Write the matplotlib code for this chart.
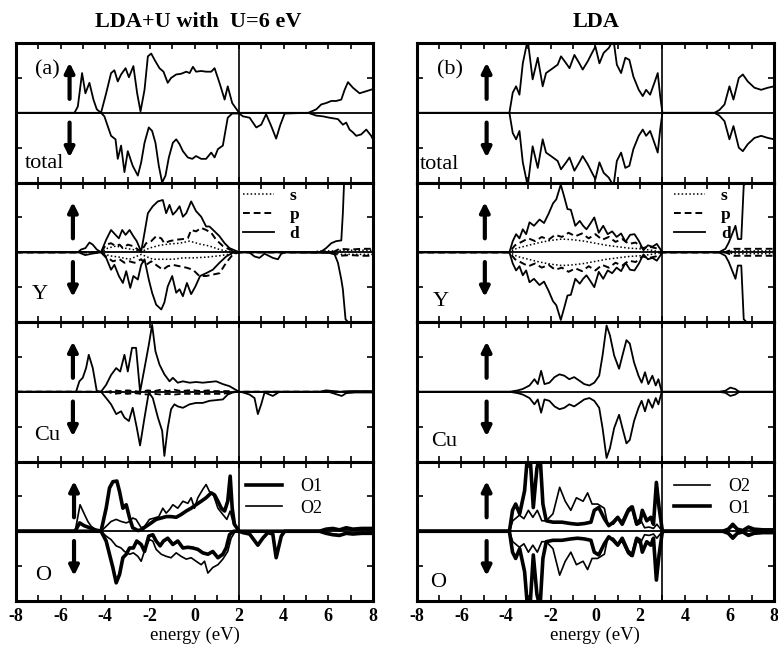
#!/usr/bin/env python3
# Spin-resolved DOS: LDA+U (U=6 eV) vs LDA, total / Y / Cu / O panels

import numpy as np
import matplotlib
matplotlib.use("Agg")
import matplotlib.pyplot as plt
from matplotlib.ticker import MultipleLocator

plt.rcParams['font.family'] = ['Liberation Serif', 'DejaVu Serif']
plt.rcParams['mathtext.fontset'] = 'stix'

# %% Data, LDA+U (a): energy (eV) and DOS (arb. units), up >0, down <0

u_tot_up_E = [-8, -5.38, -5.23, -5.04, -4.89, -4.71, -4.53, -4.38, -4.19, -3.96, -3.74, -3.59, -3.44, -3.29,
              -3.09, -2.94, -2.74, -2.57, -2.42, -2.24, -2.09, -1.94, -1.79, -1.57, -1.39, -1.20, -1.05, -0.82,
              -0.60, -0.37, -0.22, -0.07, 0.07, 0.30, 0.52, 0.75, 0.90, 1.12, 1.35, 1.49, 1.69, 2.0,
              5.1, 5.46, 5.68, 5.9, 6.13, 6.35, 6.58, 6.73, 6.88, 7.1, 7.4, 7.7, 8.0]
u_tot_up = [0, 0, 0.9, 5.7, 2.8, 4.3, 1.9, 0.5, 0, 2.8, 5.7, 6.1, 4.5, 5.5,
            6.4, 5.1, 6.7, 2.8, 0.2, 3.3, 8.1, 8.5, 7.6, 6.4, 5.9, 4.3, 5.0, 5.5,
            5.6, 5.9, 5.7, 6.6, 5.9, 6.0, 5.9, 5.9, 6.4, 4.3, 1.9, 3.8, 1.4, 0,
            0, 0.5, 1.2, 1.4, 1.7, 1.7, 1.9, 3.3, 4.4, 3.6, 2.8, 3.1, 3.4]
u_tot_dn_E = [-8, -4.19, -4.04, -3.89, -3.74, -3.54, -3.44, -3.29, -3.14, -2.99, -2.77, -2.54, -2.39, -2.24,
              -2.05, -1.90, -1.75, -1.60, -1.45, -1.30, -1.15, -0.97, -0.82, -0.67, -0.52, -0.30, -0.10, 0.07,
              0.30, 0.52, 0.75, 0.90, 1.05, 1.27, 1.49, 1.69, 2.0, 2.17, 2.47, 2.77, 2.99, 3.21, 3.44, 3.66,
              3.84, 4.04, 5.1, 5.46, 5.75, 6.05, 6.43, 6.65, 6.8, 6.95, 7.1, 7.25, 7.47, 7.7, 7.92, 8.0]
u_tot_dn = [0, 0, -0.5, -1.9, -3.3, -3.8, -6.6, -4.7, -8.5, -5.5, -7.6, -9.0, -7.1, -4.3,
            -2.1, -2.6, -4.3, -7.6, -10, -9.0, -6.4, -4.3, -3.8, -4.5, -5.5, -6.4, -6.6, -6.2,
            -6.6, -6.6, -5.7, -6.4, -5.2, -4.7, -0.7, -0.1, -0.1, -0.5, -0.7, -2.1, -1.7, -0.2, -1.9, -3.7,
            -1.8, -0.1, 0, -0.4, -0.5, -0.7, -0.9, -1.7, -1.4, -2.4, -2.8, -3.3, -3.1, -2.4, -3.3, -3.8]

u_Yd_up_E = [-8, -5.23, -5.08, -4.89, -4.71, -4.56, -4.38, -4.19, -3.96, -3.74, -3.54, -3.39, -3.24, -3.09,
             -2.91, -2.74, -2.59, -2.39, -2.24, -2.09, -1.87, -1.64, -1.42, -1.27, -1.12, -0.97, -0.82, -0.67,
             -0.52, -0.37, -0.15, 0.07, 0.30, 0.52, 0.67, 0.90, 1.12, 1.35, 1.57, 2.0,
             5.5, 5.68, 5.9, 6.13, 6.35, 6.58, 6.65, 6.71, 8.0]
u_Yd_up = [0, 0, 0.4, 0.6, 1.4, 1.1, 0.4, 0, 1.8, 3.2, 2.5, 2.0, 3.2, 2.5,
           3.2, 2.3, 1.6, 0.1, 2.8, 5.6, 6.6, 7.3, 7.5, 5.6, 6.8, 5.4, 5.9, 6.6,
           5.1, 5.6, 7.3, 5.9, 5.1, 3.7, 3.7, 3.0, 2.3, 1.3, 0.6, 0,
           0, 0.1, 0.6, 1.3, 1.6, 1.7, 5.6, 10.4, 14]
u_Yd_dn_E = [-8, -5.2, -4.9, -4.6, -4.19, -3.96, -3.74, -3.59, -3.39, -3.21, -3.06, -2.88, -2.74, -2.54,
             -2.39, -2.24, -2.05, -1.90, -1.72, -1.49, -1.35, -1.20, -1.00, -0.82, -0.67, -0.52, -0.34, -0.15,
             0.04, 0.25, 0.52, 0.82, 1.12, 1.42, 1.69, 2.0, 2.45, 2.69, 2.91, 3.14, 3.51, 3.74, 3.89, 4.1,
             6.05, 6.28, 6.43, 6.58, 6.65, 6.77, 8.0]
u_Yd_dn = [0, 0, -0.4, -0.2, 0, -0.8, -2.5, -1.8, -3.4, -4.4, -2.7, -5.1, -3.4, -3.9,
           -1.8, -1.0, -3.9, -5.8, -7.5, -8.2, -7.2, -4.9, -3.4, -5.8, -5.3, -6.3, -4.4, -6.0,
           -4.9, -3.4, -3.0, -2.5, -1.5, -0.6, -0.1, 0, 0, -0.6, -0.8, -0.2, -0.8, -1.0, -0.2, 0,
           -0.1, -0.3, -1.5, -3.9, -5.3, -9.6, -14]
u_Yp_up_E = [-8, -4.19, -3.96, -3.74, -3.54, -3.36, -3.21, -2.99, -2.77, -2.39, -2.17, -1.94, -1.72, -1.49,
             -1.35, -1.12, -0.82, -0.52, -0.30, -0.15, 0.07, 0.30, 0.52, 0.75, 0.97, 1.27, 1.57, 2.0,
             6.2, 6.5, 7.0, 7.5, 8.0]
u_Yp_up = [0, 0, 1.1, 1.3, 0.9, 1.1, 0.6, 1.1, 0.9, 0.1, 1.3, 1.6, 2.3, 2.0,
           1.3, 1.6, 1.8, 1.9, 2.0, 3.2, 3.0, 3.5, 3.2, 2.8, 1.8, 0.9, 0.4, 0,
           0, 0.5, 0.4, 0.5, 0.5]
u_Yp_dn_E = [-8, -4.19, -3.96, -3.66, -3.36, -3.14, -2.91, -2.69, -2.39, -2.17, -1.94, -1.64, -1.42, -1.20,
             -0.97, -0.67, -0.37, -0.07, 0.22, 0.52, 0.82, 1.12, 1.42, 1.72, 2.0, 6.2, 6.5, 7.0, 7.5, 8.0]
u_Yp_dn = [0, 0, -0.6, -1.3, -1.0, -1.5, -1.3, -1.5, -1.0, -1.8, -1.3, -2.0, -2.5, -2.0,
           -1.8, -2.0, -2.2, -2.5, -3.4, -3.4, -3.2, -3.0, -1.5, -0.3, 0, 0, -0.5, -0.4, -0.5, -0.5]
u_Ys_up_E = [-8, -4.19, -3.89, -3.51, -3.14, -2.77, -2.39, -2.02, -1.57, -1.12, -0.67, -0.22, 0.22, 0.67,
             1.12, 1.57, 2.0, 5.3, 5.6, 6.3, 6.6, 8.0]
u_Ys_up = [0, 0, 0.6, 0.9, 0.6, 0.4, 0.1, 0.6, 1.0, 1.2, 1.3, 1.6, 1.2, 0.9,
           0.4, 0.1, 0, 0, 0.2, 0.2, 0.3, 0.3]
u_Ys_dn_E = [-8, -4.19, -3.81, -3.36, -2.91, -2.39, -1.87, -1.42, -0.97, -0.52, -0.07, 0.52, 1.12, 1.72,
             2.0, 6.3, 6.6, 8.0]
u_Ys_dn = [0, 0, -0.5, -0.7, -1.0, -0.3, -1.0, -1.0, -1.0, -0.8, -0.8, -0.7, -0.5, -0.2,
           0, 0, -0.3, -0.3]

u_Cud_up_E = [-8, -5.31, -5.16, -5.01, -4.86, -4.74, -4.56, -4.38, -4.19, -3.96, -3.74, -3.51, -3.33, -3.14,
              -2.99, -2.80, -2.62, -2.44, -2.24, -2.05, -1.90, -1.75, -1.57, -1.35, -1.12, -0.97, -0.75, -0.52,
              -0.22, 0.07, 0.37, 0.67, 0.97, 1.27, 1.57, 2.0, 5.6, 5.9, 6.2, 6.5, 7.0, 8.0]
u_Cud_up = [0, 0, 1.5, 2.0, 3.4, 5.3, 3.4, 0.1, 0, 1.0, 2.4, 3.4, 2.9, 5.3,
            2.9, 6.3, 6.3, 0, 3.4, 6.7, 9.6, 5.8, 3.9, 2.5, 1.5, 2.0, 1.3, 1.5,
            1.3, 1.4, 1.3, 1.4, 1.5, 1.1, 0.8, 0, 0, 0.2, 0.1, 0, 0.1, 0.1]
u_Cud_dn_E = [-8, -4.19, -3.96, -3.74, -3.51, -3.29, -3.14, -2.94, -2.77, -2.59, -2.44, -2.24, -2.05, -1.87,
              -1.64, -1.45, -1.35, -1.20, -1.05, -0.90, -0.75, -0.52, -0.22, 0.07, 0.37, 0.67, 0.97, 1.27,
              1.49, 1.72, 2.0, 2.17, 2.47, 2.69, 2.84, 2.99, 3.14, 3.51, 3.66, 3.81,
              6.0, 6.3, 6.6, 6.8, 7.2, 8.0]
u_Cud_dn = [0, 0, -0.9, -1.8, -3.2, -2.8, -3.7, -4.2, -2.3, -5.1, -7.7, -3.7, -0.1, -0.9,
            -3.7, -5.6, -9.2, -5.2, -2.5, -1.8, -2.1, -2.3, -1.8, -1.6, -1.6, -1.3, -1.2, -1.1,
            -0.4, -0.1, 0, -0.1, -0.4, -0.9, -3.2, -1.8, -0.1, -0.6, -0.3, 0,
            0, -0.3, -0.6, -0.2, -0.1, -0.1]
u_Cup_E = [-8, -3.9, -3.6, -3.3, -3.0, -2.7, -2.4, -2.1, -1.8, -1.5, -1.2, -0.9, -0.6, -0.3,
           0.0, 0.3, 0.6, 0.9, 1.2, 1.5, 1.8, 8.0]
u_Cup_up = [0, 0, 0.2, 0.1, 0.2, 0.1, 0.0, 0.2, 0.1, 0.3, 0.1, 0.3, 0.1, 0.2,
            0.2, 0.1, 0.2, 0.1, 0.1, 0.1, 0, 0]
u_Cup_dn = [0, 0, -0.3, -0.2, -0.3, -0.2, -0.3, -0.4, -0.3, -0.4, -0.3, -0.4, -0.3, -0.3,
            -0.3, -0.3, -0.3, -0.3, -0.3, -0.2, 0, 0]

u_O1_up_E = [-8, -5.35, -5.15, -4.95, -4.7, -4.45, -4.19, -3.96, -3.81, -3.66, -3.48, -3.36, -3.21, -3.06,
             -2.91, -2.77, -2.54, -2.39, -2.17, -1.94, -1.72, -1.49, -1.27, -1.05, -0.82, -0.60, -0.37, -0.15,
             0.07, 0.30, 0.52, 0.75, 0.90, 1.05, 1.20, 1.35, 1.49, 1.60, 1.69, 1.79, 2.0,
             5.6, 5.9, 6.2, 6.5, 6.8, 7.1, 7.5, 8.0]
u_O1_up = [0, 0, 1.2, 0.8, 0.5, 0.2, 0, 3.3, 6.2, 7.1, 7.2, 5.7, 3.3, 3.8,
           1.9, 0.5, 0.1, 0.2, 0.7, 1.2, 1.7, 1.9, 2.1, 2.1, 2.0, 2.4, 2.9, 3.3,
           3.8, 4.3, 4.8, 5.5, 5.2, 4.3, 3.3, 2.9, 4.3, 7.9, 3.3, 1.0, 0,
           0, 0.3, 0.4, 0.2, 0.5, 0.3, 0.4, 0.4]
u_O2_up_E = [-8, -5.35, -5.13, -4.93, -4.78, -4.63, -4.38, -4.19, -3.96, -3.74, -3.51, -3.29, -3.06, -2.91,
             -2.77, -2.62, -2.39, -2.24, -2.02, -1.79, -1.60, -1.42, -1.27, -1.12, -0.97, -0.75, -0.52, -0.30,
             -0.15, 0.0, 0.15, 0.37, 0.52, 0.67, 0.85, 1.05, 1.27, 1.45, 1.60, 1.75, 2.0,
             5.6, 5.9, 6.2, 6.5, 6.8, 7.1, 7.5, 8.0]
u_O2_up = [0, 0, 3.8, 2.4, 1.4, 0.7, 0.1, 0, 0.7, 1.4, 1.7, 1.4, 1.2, 1.4,
           1.9, 1.7, 0.5, 0.7, 1.7, 1.9, 2.1, 3.3, 2.6, 3.1, 3.8, 3.3, 4.3, 4.0,
           4.8, 3.3, 4.8, 6.0, 6.7, 5.7, 5.2, 3.3, 2.4, 1.7, 2.9, 1.0, 0,
           0, 0.2, 0.3, 0.1, 0.3, 0.2, 0.2, 0.2]
u_O1_dn_E = [-8, -4.19, -3.96, -3.81, -3.66, -3.51, -3.36, -3.21, -3.06, -2.91, -2.74, -2.59, -2.39, -2.24,
             -2.05, -1.87, -1.72, -1.54, -1.39, -1.20, -0.97, -0.75, -0.52, -0.30, -0.07, 0.15, 0.37, 0.60,
             0.82, 1.05, 1.27, 1.42, 1.57, 1.75, 2.0, 2.17, 2.47, 2.84, 3.06, 3.29, 3.51, 3.66, 3.89, 4.04,
             5.6, 5.9, 6.2, 6.5, 6.8, 7.1, 7.5, 8.0]
u_O1_dn = [0, 0, -1.4, -3.3, -5.2, -7.4, -6.2, -3.8, -3.3, -2.4, -2.4, -1.4, -1.9, -2.9,
           -0.7, -0.5, -1.4, -2.1, -1.4, -1.0, -1.9, -1.4, -2.4, -2.3, -2.4, -2.6, -3.1, -3.3,
           -2.9, -3.8, -3.3, -2.4, -0.5, 0, 0, -0.2, -0.4, -2.0, -1.0, -0.2, -0.4, -3.8, -0.7, 0,
           0, -0.3, -0.5, -0.6, -0.3, -0.4, -0.3, -0.3]
u_O2_dn_E = [-8, -4.19, -3.96, -3.74, -3.51, -3.29, -3.14, -2.91, -2.74, -2.54, -2.39, -2.20, -2.02, -1.87,
             -1.72, -1.49, -1.27, -1.05, -0.82, -0.60, -0.37, -0.15, 0.07, 0.30, 0.45, 0.60, 0.82, 1.05,
             1.27, 1.49, 1.64, 1.81, 2.0, 2.17, 2.47, 2.84, 3.06, 3.29, 3.51, 3.66, 3.89, 4.04,
             5.6, 5.9, 6.2, 6.5, 6.8, 7.1, 7.5, 8.0]
u_O2_dn = [0, 0, -0.7, -1.2, -2.1, -2.4, -2.9, -3.3, -3.1, -3.6, -4.3, -2.4, -1.2, -1.4,
           -2.6, -3.3, -3.6, -3.8, -3.1, -3.6, -4.0, -3.8, -4.3, -4.8, -4.3, -6.0, -5.2, -4.8,
           -4.0, -2.9, -1.0, -0.1, 0, -0.2, -0.4, -2.0, -1.0, -0.2, -0.4, -3.8, -0.7, 0,
           0, -0.2, -0.4, -0.5, -0.2, -0.3, -0.2, -0.2]

# %% Data, LDA (b): non spin-polarised, down channel = -up

l_tot_E = [-8, -3.85, -3.70, -3.55, -3.40, -3.25, -3.03, -2.81, -2.58, -2.36, -2.21, -1.99, -1.69, -1.54,
           -1.31, -1.16, -0.94, -0.72, -0.57, -0.34, -0.15, 0.0, 0.18, 0.37, 0.60, 0.81, 0.96, 1.15,
           1.34, 1.52, 1.70, 1.94, 2.12, 2.27, 2.45, 2.64, 2.79, 2.90, 3.0,
           5.33, 5.55, 5.78, 6.0, 6.18, 6.42, 6.6, 6.82, 7.12, 7.42, 7.72, 8.0]
l_tot = [0, 0, 2.9, 3.8, 2.6, 7.1, 10.5, 4.8, 7.9, 3.8, 5.7, 6.2, 6.9, 8.1,
         7.1, 6.4, 8.3, 7.1, 6.2, 7.4, 8.6, 9.5, 7.1, 8.6, 9.3, 10.5, 6.9, 5.7,
         7.9, 7.6, 5.2, 3.3, 2.4, 3.3, 2.6, 4.3, 5.7, 2.4, 0,
         0, 0.4, 1.2, 3.8, 1.9, 5.0, 5.5, 4.5, 3.6, 3.3, 3.6, 3.8]

l_Yd_E = [-8, -3.85, -3.7, -3.55, -3.4, -3.25, -3.1, -2.95, -2.75, -2.5, -2.3, -2.1, -1.9, -1.75,
          -1.55, -1.4, -1.25, -1.1, -0.9, -0.7, -0.55, -0.4, -0.25, -0.05, 0.15, 0.35, 0.55, 0.75,
          0.95, 1.15, 1.35, 1.55, 1.75, 1.95, 2.15, 2.35, 2.55, 2.75, 3.0,
          5.53, 5.82, 5.97, 6.27, 6.38, 6.53, 6.64, 8.0]
l_Yd = [0, 0, 1.6, 2.6, 2.0, 3.3, 2.6, 4.3, 3.8, 4.7, 4.2, 5.5, 7.0, 7.6,
        9.7, 8.0, 6.2, 6.1, 3.8, 4.5, 3.8, 3.3, 4.0, 5.0, 2.8, 3.8, 2.6, 3.0,
        2.2, 2.7, 1.5, 2.5, 2.6, 1.6, 0.3, 1.0, 0.8, 1.2, 0,
        0, 0.5, 1.4, 3.8, 1.9, 1.9, 9.6, 14]
l_Yp_E = [-8, -3.85, -3.6, -3.3, -3.0, -2.7, -2.4, -2.1, -1.8, -1.5, -1.2, -0.9, -0.6, -0.3,
          0.0, 0.3, 0.6, 0.9, 1.2, 1.5, 1.8, 2.1, 2.4, 2.7, 3.0, 5.8, 6.2, 8.0]
l_Yp = [0, 0, 1.0, 1.5, 2.0, 1.6, 2.2, 1.8, 2.5, 2.2, 2.8, 2.3, 2.7, 2.0,
        2.6, 1.8, 2.2, 1.5, 1.9, 1.2, 1.4, 0.6, 0.8, 0.6, 0, 0, 0.5, 0.5]
l_Ys_E = [-8, -3.85, -3.5, -3.0, -2.5, -2.0, -1.5, -1.0, -0.5, 0.0, 0.5, 1.0, 1.5, 2.0,
          2.5, 3.0, 5.8, 6.2, 8.0]
l_Ys = [0, 0, 0.6, 1.0, 1.4, 1.7, 1.9, 1.8, 1.6, 1.3, 1.0, 0.8, 0.6, 0.5,
        0.3, 0, 0, 0.2, 0.2]

l_Cud_E = [-8, -3.84, -3.47, -3.25, -2.95, -2.73, -2.58, -2.43, -2.28, -2.06, -1.83, -1.61, -1.39, -1.17,
           -0.95, -0.72, -0.50, -0.27, -0.05, 0.17, 0.32, 0.50, 0.65, 0.84, 1.06, 1.21, 1.39, 1.54,
           1.73, 1.93, 2.07, 2.22, 2.37, 2.55, 2.70, 2.82, 2.97, 5.52, 5.82, 6.04, 6.26, 6.44, 8.0]
l_Cud = [0, 0, 0.2, 0.4, 0.9, 1.8, 1.1, 3.0, 1.1, 1.3, 2.1, 2.5, 2.3, 1.8,
         2.1, 1.6, 1.1, 0.9, 1.3, 2.3, 5.2, 9.5, 8.1, 5.2, 3.3, 5.2, 7.4, 6.9,
         4.2, 2.3, 1.3, 2.8, 1.1, 2.3, 0.9, 1.8, 0, 0, 0.15, 0.6, 0.4, 0, 0]

l_O1_E = [-8, -3.85, -3.71, -3.57, -3.39, -3.17, -3.05, -2.93, -2.78, -2.62, -2.48, -2.35, -2.2, -1.9,
          -1.5, -1.1, -0.8, -0.5, -0.2, -0.05, 0.15, 0.4, 0.6, 0.8, 1.0, 1.2, 1.45, 1.65,
          1.85, 2.0, 2.1, 2.3, 2.48, 2.6, 2.73, 2.85, 3.0,
          5.7, 5.95, 6.15, 6.35, 6.6, 6.85, 7.1, 7.5, 8.0]
l_O1 = [0, 0, 3.0, 3.9, 2.5, 5.8, 10.5, 11, 3.4, 9.0, 11, 3.9, 1.5, 1.3,
        1.3, 1.1, 1.0, 1.1, 1.3, 3.0, 3.4, 1.8, 0.8, 1.3, 2.0, 1.0, 2.8, 3.5,
        1.0, 1.3, 3.0, 1.5, 2.0, 1.0, 7.0, 3.4, 0,
        0, 0.3, 1.0, 0.3, 0.1, 0.6, 0.3, 0.2, 0.2]
l_O2_E = [-8, -3.85, -3.7, -3.4, -3.2, -3.0, -2.8, -2.6, -2.4, -2.2, -1.9, -1.6, -1.35, -1.1,
          -0.85, -0.55, -0.35, -0.15, 0.1, 0.4, 0.55, 0.8, 1.0, 1.2, 1.45, 1.6, 1.8, 2.0,
          2.2, 2.4, 2.6, 2.75, 3.0, 5.7, 5.95, 6.15, 6.35, 6.6, 6.85, 7.1, 7.5, 8.0]
l_O2 = [0, 0, 1.5, 2.3, 1.8, 3.0, 2.0, 3.0, 1.5, 1.5, 2.5, 6.3, 4.3, 3.0,
        4.8, 4.3, 5.5, 3.9, 3.9, 3.3, 1.0, 1.0, 1.8, 1.5, 3.2, 3.6, 1.2, 1.8,
        0.5, 0.6, 0.4, 1.0, 0, 0, 0.2, 0.7, 0.2, 0.1, 0.4, 0.2, 0.1, 0.1]

ticks_x = [-8, -6, -4, -2, 0, 2, 4, 6, 8]

# %% Figure

fig = plt.figure(figsize=(7.78, 6.46), dpi=100)
col_left = [0.0206, 0.5356]
col_w = [0.4588, 0.4594]
p_h = 0.2159
p_b = 0.0697
fermi = [2.0, 3.0]

axes = [[None] * 4 for _ in range(2)]
for c in range(2):
    for r in range(4):
        ax = fig.add_axes([col_left[c], p_b + (3 - r) * p_h, col_w[c], p_h])
        ax.set_xlim(-8, 8)
        ax.set_ylim(-10, 10)
        ax.xaxis.set_major_locator(MultipleLocator(2))
        ax.xaxis.set_minor_locator(MultipleLocator(1))
        ax.set_yticks([-5, 5])
        ax.tick_params(which='both', direction='in', top=True, right=True, width=1.2)
        ax.tick_params(which='major', length=4)
        ax.tick_params(which='minor', length=4)
        ax.set_yticklabels([])
        for s in ax.spines.values():
            s.set_linewidth(2.2)
        ax.axhline(0, color='k', lw=1.3, zorder=1)
        ax.axvline(fermi[c], color='k', lw=1.2, zorder=1)
        if r < 3:
            ax.set_xticklabels([])
        else:
            ax.set_xticks(ticks_x)
            ax.set_xticklabels([str(t) for t in ticks_x], fontsize=13, fontweight='bold')
            ax.tick_params(axis='x', pad=5)
            ax.set_xlabel('energy (eV)', fontsize=13.5, labelpad=1)
        axes[c][r] = ax

lw = 1.3
k = 'k'

# (a) LDA+U
ax = axes[0][0]
ax.plot(u_tot_up_E, u_tot_up, color=k, lw=lw)
ax.plot(u_tot_dn_E, u_tot_dn, color=k, lw=lw)

ax = axes[0][1]
ls_, = ax.plot(u_Ys_up_E, u_Ys_up, color=k, lw=1.1, ls=(0, (1, 1.5)), label='s')
ax.plot(u_Ys_dn_E, u_Ys_dn, color=k, lw=1.1, ls=(0, (1, 1.5)))
lp_, = ax.plot(u_Yp_up_E, u_Yp_up, color=k, lw=1.4, ls=(0, (3.5, 2)), label='p')
ax.plot(u_Yp_dn_E, u_Yp_dn, color=k, lw=1.4, ls=(0, (3.5, 2)))
ld_, = ax.plot(u_Yd_up_E, u_Yd_up, color=k, lw=lw, label='d')
ax.plot(u_Yd_dn_E, u_Yd_dn, color=k, lw=lw)
ax.legend(handles=[ls_, lp_, ld_], loc='upper left', bbox_to_anchor=(0.635, 0.96), frameon=False,
          handlelength=1.8, handletextpad=0.9, labelspacing=0.15, borderpad=0, borderaxespad=0,
          prop={'size': 12.5, 'weight': 'bold'})

ax = axes[0][2]
ax.plot(u_Cup_E, u_Cup_up, color=k, lw=1.3, ls=(0, (3.5, 2)))
ax.plot(u_Cup_E, u_Cup_dn, color=k, lw=1.3, ls=(0, (3.5, 2)))
ax.plot(u_Cud_up_E, u_Cud_up, color=k, lw=lw)
ax.plot(u_Cud_dn_E, u_Cud_dn, color=k, lw=lw)

ax = axes[0][3]
o1, = ax.plot(u_O1_up_E, u_O1_up, color=k, lw=2.6, label='O1')
ax.plot(u_O1_dn_E, u_O1_dn, color=k, lw=2.6)
o2, = ax.plot(u_O2_up_E, u_O2_up, color=k, lw=1.2, label='O2')
ax.plot(u_O2_dn_E, u_O2_dn, color=k, lw=1.2)
ax.legend(handles=[o1, o2], loc='upper left', bbox_to_anchor=(0.645, 0.88), frameon=False,
          handlelength=2.0, handletextpad=1.0, labelspacing=0.25, borderpad=0, borderaxespad=0,
          prop={'size': 13})

# (b) LDA
ax = axes[1][0]
ax.plot(l_tot_E, l_tot, color=k, lw=lw)
ax.plot(l_tot_E, -np.array(l_tot), color=k, lw=lw)

ax = axes[1][1]
ls_, = ax.plot(l_Ys_E, l_Ys, color=k, lw=1.1, ls=(0, (1, 1.5)), label='s')
ax.plot(l_Ys_E, -np.array(l_Ys), color=k, lw=1.1, ls=(0, (1, 1.5)))
lp_, = ax.plot(l_Yp_E, l_Yp, color=k, lw=1.4, ls=(0, (3.5, 2)), label='p')
ax.plot(l_Yp_E, -np.array(l_Yp), color=k, lw=1.4, ls=(0, (3.5, 2)))
ld_, = ax.plot(l_Yd_E, l_Yd, color=k, lw=lw, label='d')
ax.plot(l_Yd_E, -np.array(l_Yd), color=k, lw=lw)
ax.legend(handles=[ls_, lp_, ld_], loc='upper left', bbox_to_anchor=(0.72, 0.96), frameon=False,
          handlelength=1.8, handletextpad=0.9, labelspacing=0.15, borderpad=0, borderaxespad=0,
          prop={'size': 12.5, 'weight': 'bold'})

ax = axes[1][2]
ax.plot(l_Cud_E, l_Cud, color=k, lw=lw)
ax.plot(l_Cud_E, -np.array(l_Cud), color=k, lw=lw)

ax = axes[1][3]
o2, = ax.plot(l_O2_E, l_O2, color=k, lw=1.2, label='O2')
ax.plot(l_O2_E, -np.array(l_O2), color=k, lw=1.2)
o1, = ax.plot(l_O1_E, l_O1, color=k, lw=2.6, label='O1')
ax.plot(l_O1_E, -np.array(l_O1), color=k, lw=2.6)
ax.legend(handles=[o2, o1], loc='upper left', bbox_to_anchor=(0.72, 0.88), frameon=False,
          handlelength=2.0, handletextpad=1.0, labelspacing=0.25, borderpad=0, borderaxespad=0,
          prop={'size': 13})

# %% Labels and spin arrows

names = ['total', 'Y', 'Cu', 'O']
name_x = [[-7.6, -6.95, -6.6, -6.8], [-7.85, -6.9, -6.75, -7.05]]
name_y = [[-7.3, -6.0, -6.3, -6.4], [-7.4, -7.0, -7.1, -7.3]]
arrow_x = [[-5.6, -5.45, -5.45, -5.4], [-4.87, -4.95, -4.87, -4.87]]
tags = ['(a)', '(b)']
tag_x = [-6.6, -6.5]
for c in range(2):
    for r in range(4):
        ax = axes[c][r]
        ha = 'left' if r == 0 else 'center'
        ax.text(name_x[c][r], name_y[c][r], names[r], fontsize=16, ha=ha, va='center')
        ax.annotate('', xy=(arrow_x[c][r], 7.2), xytext=(arrow_x[c][r], 2.0),
                    arrowprops=dict(arrowstyle='-|>', lw=3, color='k', mutation_scale=14,
                                    shrinkA=0, shrinkB=0))
        ax.annotate('', xy=(arrow_x[c][r], -6.4), xytext=(arrow_x[c][r], -1.4),
                    arrowprops=dict(arrowstyle='-|>', lw=3, color='k', mutation_scale=14,
                                    shrinkA=0, shrinkB=0))
    axes[c][0].text(tag_x[c], 6.2, tags[c], fontsize=16, ha='center', va='center')

fig.text(198 / 778, 1 - 22 / 646, 'LDA+U with  U=6 eV', fontsize=16, fontweight='bold',
         ha='center', va='center')
fig.text(596 / 778, 1 - 22 / 646, 'LDA', fontsize=16, fontweight='bold', ha='center', va='center')

plt.savefig('out.png', dpi=100)
